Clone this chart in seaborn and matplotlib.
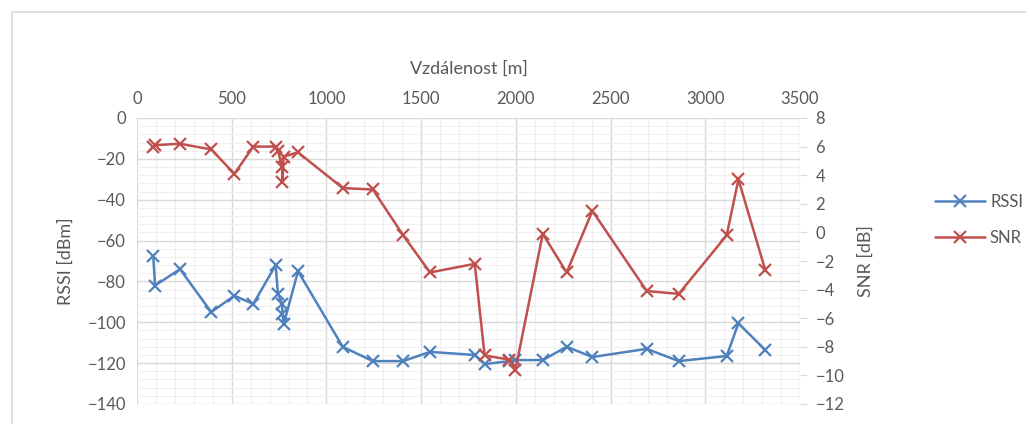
import numpy as np
import pandas as pd
import matplotlib.pyplot as plt
import seaborn as sns
from matplotlib.ticker import MultipleLocator

vzdalenost = [86, 95, 227, 392, 514, 614, 732, 744, 766, 768, 774, 850, 1086, 1245,
              1405, 1547, 1783, 1835, 1965, 1998, 2142, 2268, 2404, 2691, 2860,
              3113, 3175, 3316]
rssi = [-67.5, -82, -74, -95, -87, -91, -72, -86, -91, -96, -101, -75, -112, -119,
        -119, -114.5, -116, -120.5, -119, -118.5, -118.5, -112, -117, -113, -119,
        -116.5, -100.5, -113.5]
snr = [6.0, 6.1, 6.2, 5.8, 4.1, 6.0, 6.0, 5.7, 4.6, 3.5, 5.3, 5.6, 3.1, 3.0,
       -0.2, -2.8, -2.2, -8.6, -8.9, -9.6, -0.1, -2.8, 1.5, -4.1, -4.3,
       -0.2, 3.7, -2.6]

df = pd.DataFrame({'vzdalenost': vzdalenost, 'rssi': rssi, 'snr': snr})

sns.set_style('white')
plt.rcParams['font.family'] = ['Lato', 'DejaVu Sans']
seda = '#595959'

fig = plt.figure(figsize=(10.26, 4.24), dpi=100)
ax = fig.add_axes([137 / 1026, 1 - 404 / 424, (800 - 137) / 1026, (404 - 118) / 424])
ax2 = ax.twinx()

sns.lineplot(data=df, x='vzdalenost', y='rssi', ax=ax, sort=False, estimator=None,
             color='#4F81BD', marker='x', markersize=8, markeredgewidth=1.6,
             markeredgecolor='#4F81BD', linewidth=1.8, label='RSSI', legend=False)
sns.lineplot(data=df, x='vzdalenost', y='snr', ax=ax2, sort=False, estimator=None,
             color='#C0504D', marker='x', markersize=8, markeredgewidth=1.6,
             markeredgecolor='#C0504D', linewidth=1.8, label='SNR', legend=False)

ax.set_xlim(0, 3500)
ax.set_ylim(-140, 0)
ax2.set_ylim(-12, 8)
ax.xaxis.set_major_locator(MultipleLocator(500))
ax.xaxis.set_minor_locator(MultipleLocator(100))
ax.yaxis.set_major_locator(MultipleLocator(20))
ax.yaxis.set_minor_locator(MultipleLocator(4))
ax2.yaxis.set_major_locator(MultipleLocator(2))

ax.grid(which='major', color='#d9d9d9', linewidth=1.0)
ax.grid(which='minor', color='#efefef', linewidth=0.8)
ax.set_axisbelow(True)
ax2.grid(False)

ax.xaxis.tick_top()
ax.xaxis.set_label_position('top')
ax.set_xlabel('Vzdálenost [m]', fontsize=13, color=seda, labelpad=12)
ax.set_ylabel('RSSI [dBm]', fontsize=13, color=seda, labelpad=10)
ax2.set_ylabel('SNR [dB]', fontsize=13, color=seda, labelpad=10)

for a in (ax, ax2):
    for s in a.spines.values():
        s.set_visible(False)
    a.tick_params(which='both', length=0, labelsize=12, labelcolor=seda, pad=8)
ax2.tick_params(axis='y', length=5, color='#d9d9d9', pad=6)

h1, l1 = ax.get_legend_handles_labels()
h2, l2 = ax2.get_legend_handles_labels()
fig.legend(h1 + h2, l1 + l2, loc='center left', bbox_to_anchor=(920 / 1026, 1 - 220 / 424),
           frameon=False, fontsize=12, labelcolor=seda, handlelength=3.0,
           handletextpad=0.3, labelspacing=1.2)

fig.patches.append(plt.Rectangle((12 / 1026, -0.1), 1.2, 1 - 12 / 424 + 0.1,
                                 transform=fig.transFigure, fill=False,
                                 edgecolor='#d9d9d9', linewidth=1.2))

fig.savefig('out.png', dpi=100)
